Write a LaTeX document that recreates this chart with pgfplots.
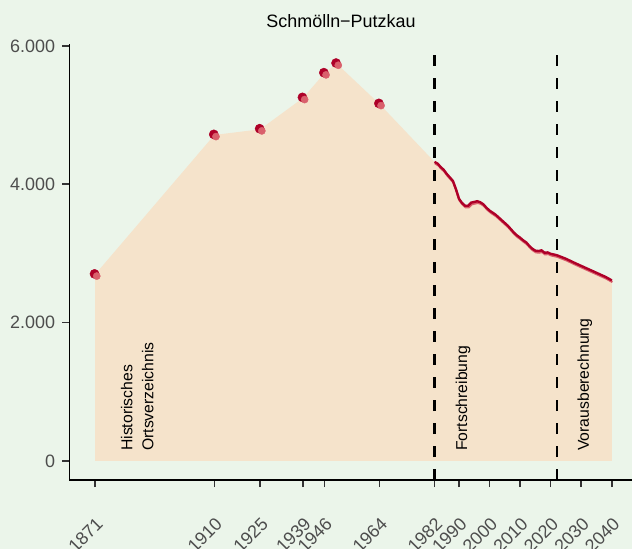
\documentclass[border=0pt]{standalone}
\usepackage{fontspec}
\setmainfont{Liberation Sans}
\usepackage{pgfplots}
\usepackage{pgfplotstable}
\pgfplotsset{compat=1.18}
\definecolor{bg}{HTML}{EBF5EA}
\definecolor{area}{HTML}{F5E3CB}
\definecolor{dred}{HTML}{AE0028}
\definecolor{pinkred}{HTML}{D9606C}
\definecolor{tickgray}{HTML}{4D4D4D}

\pgfplotstableread{
year pop
1871 2696
1910 4713
1925 4795
1939 5248
1946 5605
1950 5744
1964 5161
}\hist

\pgfplotstableread{
year pop
1982 4323
1983 4300
1984 4250
1985 4210
1986 4150
1987 4100
1988 4050
1989 3930
1990 3790
1991 3730
1992 3690
1993 3690
1994 3735
1995 3745
1996 3755
1997 3740
1998 3710
1999 3660
2000 3620
2001 3590
2002 3560
2003 3520
2004 3480
2005 3440
2006 3400
2007 3350
2008 3300
2009 3260
2010 3228
2011 3190
2012 3160
2013 3110
2014 3068
2015 3040
2016 3035
2017 3045
2018 3010
2019 3015
2020 2995
2021 2985
2022 2975
2025 2923
2028 2860
2031 2800
2035 2720
2038 2660
2040 2610
}\fort

\pgfplotstableread{
year pop
1871 2696
1910 4713
1925 4795
1939 5248
1946 5605
1950 5744
1964 5161
1982 4323
1983 4300
1984 4250
1985 4210
1986 4150
1987 4100
1988 4050
1989 3930
1990 3790
1991 3730
1992 3690
1993 3690
1994 3735
1995 3745
1996 3755
1997 3740
1998 3710
1999 3660
2000 3620
2001 3590
2002 3560
2003 3520
2004 3480
2005 3440
2006 3400
2007 3350
2008 3300
2009 3260
2010 3228
2011 3190
2012 3160
2013 3110
2014 3068
2015 3040
2016 3035
2017 3045
2018 3010
2019 3015
2020 2995
2021 2985
2022 2975
2025 2923
2028 2860
2031 2800
2035 2720
2038 2660
2040 2610
2040 0
1871 0
}\areatab

\begin{document}
\begin{tikzpicture}
\path[use as bounding box, fill=bg] (-69.3bp,-69bp) rectangle (562.7bp,480bp);
\begin{axis}[
  at={(0,0)}, anchor=south west,
  scale only axis, width=562.7bp, height=436.2bp,
  xmin=1862.55, xmax=2046.6, ymin=-275, ymax=6031,
  axis x line=bottom, axis y line=left,
  axis line style={-, black, line width=1.1bp},
  tick align=outside, major tick length=7bp,
  tick style={color=black!80, line width=1.6bp},
  xtick={1871,1910,1925,1939,1946,1964,1982,1990,2000,2010,2020,2030,2040},
  xticklabels={1871,1910,1925,1939,1946,1964,1982,1990,2000,2010,2020,2030,2040},
  ytick={0,2000,4000,6000},
  yticklabels={0,2.000,4.000,6.000},
  tick label style={font=\fontsize{18}{21}\selectfont, text=tickgray},
  yticklabel style={anchor=east, inner sep=0pt, xshift=-7bp},
  xticklabel style={inner sep=0pt, xshift=0bp, yshift=-29bp, rotate=45, anchor=north east},
]
\addplot[fill=area, draw=none] table[x=year, y=pop] {\areatab};
\addplot[black, line width=2.3bp, dash pattern=on 11bp off 12bp] coordinates {(1982,-275) (1982,6031)};
\addplot[black, line width=2.3bp, dash pattern=on 11bp off 12bp] coordinates {(2022,-275) (2022,6031)};
\addplot[pinkred, line width=2.2bp, xshift=0.6bp, yshift=-1.6bp] table[x=year, y=pop] {\fort};
\addplot[dred, line width=2.4bp] table[x=year, y=pop] {\fort};
\addplot[only marks, mark=*, mark size=4.6bp, color=dred, xshift=-0.6bp, yshift=0.6bp] table[x=year, y=pop] {\hist};
\addplot[only marks, mark=*, mark size=3.6bp, color=pinkred, xshift=1.6bp, yshift=-1.6bp] table[x=year, y=pop] {\hist};
\node[rotate=90, anchor=west, inner sep=0pt, align=left, font=\fontsize{15.8}{21}\selectfont] at (axis cs:1884.8,145) {Historisches\\Ortsverzeichnis};
\node[rotate=90, anchor=west, inner sep=0pt, font=\fontsize{15.8}{21}\selectfont] at (axis cs:1991.3,145) {Fortschreibung};
\node[rotate=90, anchor=west, inner sep=0pt, font=\fontsize{15.8}{21}\selectfont] at (axis cs:2031.2,145) {Vorausberechnung};
\end{axis}
\node[anchor=base, font=\fontsize{18}{21}\selectfont] at (271.7bp,452bp) {Schmölln−Putzkau};
\end{tikzpicture}
\end{document}
